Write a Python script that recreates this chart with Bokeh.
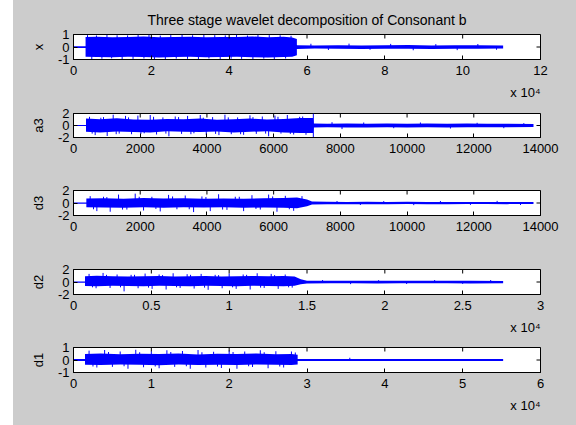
from bokeh.plotting import figure
from bokeh.layouts import column, row
from bokeh.models import Range1d, FixedTicker, Spacer, Title
from bokeh.embed import file_html
from bokeh.resources import INLINE

TITLE = "Three stage wavelet decomposition of Consonant b"
EXP_LABEL = "x 10\u2074"
FONT = "Liberation Sans"
BLUE = "#0000ff"
GRAY = "#cccccc"

# ---- x (original signal), samples ----
x_env_t = [0, 3100, 3100, 6000, 10000, 14000, 18000, 22000, 26000, 30000, 34000, 38000, 42000, 46000,
           50000, 54000, 56200, 57400, 57400, 62000, 68000, 74000, 80000, 86000, 92000, 98000, 104000, 110400]
x_env_hi = [0.07, 0.07, 0.80, 0.82, 0.78, 0.81, 0.84, 0.79, 0.80, 0.83, 0.78, 0.81, 0.80, 0.84,
            0.79, 0.82, 0.76, 0.65, 0.15, 0.13, 0.15, 0.12, 0.14, 0.16, 0.13, 0.14, 0.15, 0.12]
x_env_lo = [-0.07, -0.07, -0.78, -0.80, -0.82, -0.77, -0.80, -0.83, -0.79, -0.78, -0.82, -0.80, -0.77, -0.81,
            -0.83, -0.79, -0.78, -0.65, -0.15, -0.12, -0.14, -0.15, -0.13, -0.14, -0.16, -0.13, -0.14, -0.12]
x_spk_t = [3600, 4700, 5900, 7300, 8600, 9800, 11200, 12500, 13900, 15300, 16600, 18100, 19400, 20800,
           22300, 23600, 25000, 26400, 27900, 29300, 30600, 32100, 33500, 34800, 36300, 37700, 39000, 40500,
           41900, 43200, 44700, 46100, 47400, 48900, 50300, 51600, 53100, 54500, 55900,
           61000, 65500, 70800, 76200, 81500, 87300, 93100, 98600, 103900, 108700]
x_spk_v = [0.95, -0.97, 0.92, -0.94, 0.97, -0.91, 0.94, -0.98, 0.93, -0.95, 0.96, -0.92, 0.98, -0.96,
           0.91, -0.97, 0.95, -0.93, 0.97, -0.95, 0.94, -0.98, 0.96, -0.92, 0.95, -0.96, 0.93, -0.94,
           0.97, -0.95, 0.92, -0.97, 0.96, -0.93, 0.95, -0.96, 0.94, -0.92, 0.90,
           0.26, -0.24, 0.27, -0.22, 0.25, -0.26, 0.23, -0.25, 0.24, -0.22]

# ---- a3 ----
a3_env_t = [0, 375, 375, 800, 1300, 1800, 2300, 2800, 3300, 3800, 4300, 4800, 5300, 5800, 6300, 6800,
            7180, 7200, 7600, 8200, 8800, 9400, 10000, 10600, 11200, 11800, 12400, 13000, 13790]
a3_env_hi = [0.1, 0.1, 1.15, 1.05, 1.2, 1.0, 0.95, 1.1, 1.05, 1.15, 0.95, 1.05, 1.15, 1.0, 1.1, 1.25,
             1.25, 0.35, 0.3, 0.35, 0.28, 0.33, 0.3, 0.35, 0.28, 0.32, 0.3, 0.29, 0.25]
a3_env_lo = [-0.1, -0.1, -1.05, -1.15, -1.0, -1.1, -1.15, -0.95, -1.05, -1.1, -1.0, -1.15, -1.05, -0.95, -1.15, -1.25,
             -1.25, -0.35, -0.3, -0.33, -0.35, -0.28, -0.32, -0.3, -0.35, -0.28, -0.31, -0.29, -0.25]
a3_spk_t = [480, 650, 820, 1010, 1190, 1370, 1560, 1740, 1930, 2120, 2300, 2490, 2680, 2860, 3050, 3240,
            3420, 3610, 3800, 3980, 4170, 4360, 4540, 4730, 4920, 5100, 5290, 5480, 5660, 5850, 6040, 6220,
            6410, 6600, 6780, 6970, 7190, 7190, 7750, 8050, 8700, 9600, 10400, 11300, 12100, 12900, 13500,
            560, 900, 1280, 1650, 2020, 2400, 2770, 3150, 3520, 3890, 4260, 4640, 5010, 5380, 5760, 6130,
            6500, 6870]
a3_spk_v = [1.45, -1.6, 1.3, -1.75, 1.8, -1.35, 1.6, -1.45, 1.65, -1.3, 1.75, -1.5, 1.35, -1.8, 1.5, -1.4,
            1.6, -1.3, 1.75, -1.55, 1.4, -1.6, 1.8, -1.45, 1.35, -1.55, 1.7, -1.4, 1.5, -1.8, 1.65, -1.35,
            1.75, -1.5, 1.45, -1.55, 2.0, -2.0, 0.55, -0.6, 0.5, -0.45, 0.5, -0.5, 0.45, -0.45, 0.4,
            -1.35, 1.4, -1.45, 1.35, -1.4, 1.45, -1.35, 1.4, -1.45, 1.3, -1.4, 1.35, -1.45, 1.4, -1.35, 1.45,
            -1.4, 1.5]

# ---- d3 ----
d3_env_t = [0, 385, 385, 900, 1500, 2100, 2700, 3300, 3900, 4500, 5100, 5700, 6300, 6700, 7000, 7150,
            7600, 8200, 8800, 9400, 10000, 10600, 11200, 11800, 12400, 13000, 13790]
d3_env_hi = [0.1, 0.1, 0.72, 0.77, 0.67, 0.82, 0.72, 0.77, 0.67, 0.72, 0.67, 0.77, 0.82, 0.87, 0.58, 0.25,
             0.2, 0.18, 0.2, 0.17, 0.19, 0.18, 0.18, 0.16, 0.18, 0.17, 0.15]
d3_env_lo = [-0.1, -0.1, -0.67, -0.72, -0.77, -0.67, -0.77, -0.67, -0.72, -0.67, -0.77, -0.72, -0.77, -0.82, -0.53, -0.25,
             -0.2, -0.19, -0.18, -0.2, -0.17, -0.19, -0.18, -0.17, -0.16, -0.18, -0.15]
d3_spk_t = [500, 700, 900, 1100, 1350, 1600, 1850, 2100, 2350, 2600, 2850, 3100, 3350, 3600, 3850, 4100,
            4350, 4600, 4850, 5100, 5350, 5600, 5850, 6100, 6350, 6600, 6850,
            7900, 8600, 9300, 10200, 11000, 11900, 12700, 13400,
            600, 1000, 1470, 1970, 2470, 2970, 3470, 3970, 4470, 4970, 5470, 5970, 6470]
d3_spk_v = [1.1, -1.3, 1.0, -1.4, 1.35, -1.05, 1.5, -1.2, 1.0, -1.35, 1.3, -1.0, 1.2, -1.45, 1.05, -1.3,
            1.4, -1.1, 1.0, -1.3, 1.25, -1.05, 1.35, -1.4, 1.15, -1.25, 1.1,
            0.32, -0.32, 0.3, -0.34, 0.32, -0.3, 0.34, -0.32,
            -1.0, 0.95, -1.05, 1.0, -0.95, 1.05, -1.0, 0.95, -1.05, 1.0, -0.95, 1.05, -1.0]

# ---- d2 ----
d2_env_t = [0, 740, 740, 1500, 2500, 3500, 4500, 5500, 6500, 7500, 8500, 9500, 10500, 11500, 12500, 13500,
            14200, 14600, 15000, 16500, 18000, 19500, 21000, 22500, 24000, 25500, 27600]
d2_env_hi = [0.1, 0.1, 0.92, 1.0, 0.92, 0.87, 0.92, 0.97, 0.87, 0.92, 0.97, 0.87, 0.92, 0.97, 0.92, 0.97,
             0.87, 0.45, 0.22, 0.2, 0.22, 0.19, 0.21, 0.2, 0.22, 0.19, 0.18]
d2_env_lo = [-0.1, -0.1, -0.62, -0.67, -0.58, -0.62, -0.67, -0.58, -0.62, -0.67, -0.58, -0.62, -0.67, -0.58, -0.62, -0.67,
             -0.58, -0.35, -0.22, -0.2, -0.21, -0.22, -0.19, -0.21, -0.2, -0.22, -0.18]
d2_spk_t = [1000, 1450, 1900, 2350, 2800, 3250, 3700, 4150, 4600, 5050, 5500, 5950, 6400, 6850, 7300, 7750,
            8200, 8650, 9100, 9550, 10000, 10450, 10900, 11350, 11800, 12250, 12700, 13150, 13600, 14050,
            16000, 17800, 19600, 21400, 23200, 25000, 26800,
            1220, 2120, 3020, 3920, 4820, 5720, 6620, 7520, 8420, 9320, 10220, 11120, 12020, 12920, 13820]
d2_spk_v = [1.3, -1.0, 1.45, -0.95, 1.2, -1.5, 1.15, -1.0, 1.35, -1.1, 1.2, -1.2, 1.4, -0.95, 1.25, -1.05,
            1.3, -1.25, 1.15, -1.0, 1.35, -1.1, 1.2, -1.2, 1.4, -0.95, 1.3, -1.1, 1.2, -0.9,
            0.32, -0.34, 0.3, -0.32, 0.32, -0.3, 0.32,
            -0.85, 1.15, -0.85, 1.15, -0.9, 1.1, -0.85, 1.15, -0.9, 1.1, -0.85, 1.15, -0.9, 1.1, -0.85]

# ---- d1 ----
d1_env_t = [0, 1480, 1480, 3500, 6000, 8500, 11000, 13500, 16000, 18500, 21000, 23500, 26000, 28000,
            28800, 28800, 55200]
d1_env_hi = [0.08, 0.08, 0.48, 0.53, 0.46, 0.5, 0.48, 0.53, 0.45, 0.5, 0.48, 0.52, 0.46, 0.48, 0.43, 0.08, 0.08]
d1_env_lo = [-0.08, -0.08, -0.38, -0.4, -0.36, -0.38, -0.41, -0.36, -0.39, -0.38, -0.4, -0.36, -0.38, -0.39,
             -0.36, -0.08, -0.08]
d1_spk_t = [2000, 3000, 4000, 5000, 6000, 7000, 8000, 9000, 10000, 11000, 12000, 13000, 14000, 15000,
            16000, 17000, 18000, 19000, 20000, 21000, 22000, 23000, 24000, 25000, 26000, 27000, 28000, 35500,
            2500, 4500, 6500, 8500, 10500, 12500, 14500, 16500, 18500, 20500, 22500, 24500, 26500, 28500]
d1_spk_v = [0.75, -0.6, 0.8, -0.55, 0.68, -0.7, 0.82, -0.58, 0.7, -0.66, 0.78, -0.55, 0.72, -0.7,
            0.8, -0.6, 0.66, -0.64, 0.76, -0.7, 0.68, -0.56, 0.78, -0.66, 0.7, -0.6, 0.68, 0.18,
            -0.52, 0.64, -0.5, 0.62, -0.52, 0.64, -0.5, 0.62, -0.52, 0.64, -0.5, 0.62, -0.52, 0.6]

# ---- axes definitions ----
x_ticks = [0, 2, 4, 6, 8, 10, 12]
x_tick_labels = ["0", "2", "4", "6", "8", "10", "12"]
a3_ticks = [0, 2000, 4000, 6000, 8000, 10000, 12000, 14000]
a3_tick_labels = ["0", "2000", "4000", "6000", "8000", "10000", "12000", "14000"]
d2_ticks = [0, 0.5, 1, 1.5, 2, 2.5, 3]
d2_tick_labels = ["0", "0.5", "1", "1.5", "2", "2.5", "3"]
d1_ticks = [0, 1, 2, 3, 4, 5, 6]
d1_tick_labels = ["0", "1", "2", "3", "4", "5", "6"]
y1_ticks = [-1, 0, 1]
y1_tick_labels = ["-1", "0", "1"]
y2_ticks = [-2, 0, 2]
y2_tick_labels = ["-2", "0", "2"]

panels = [
    dict(name="x", t=x_env_t, hi=x_env_hi, lo=x_env_lo, st=x_spk_t, sv=x_spk_v, scale=1e4,
         xmax=12, xt=x_ticks, xl=x_tick_labels, ylim=1, yt=y1_ticks, yl=y1_tick_labels, exp=True,
         h=106, top=34, bottom=47, title=True),
    dict(name="a3", t=a3_env_t, hi=a3_env_hi, lo=a3_env_lo, st=a3_spk_t, sv=a3_spk_v, scale=1,
         xmax=14000, xt=a3_ticks, xl=a3_tick_labels, ylim=2, yt=y2_ticks, yl=y2_tick_labels, exp=False,
         h=70, top=7, bottom=39, title=False),
    dict(name="d3", t=d3_env_t, hi=d3_env_hi, lo=d3_env_lo, st=d3_spk_t, sv=d3_spk_v, scale=1,
         xmax=14000, xt=a3_ticks, xl=a3_tick_labels, ylim=2, yt=y2_ticks, yl=y2_tick_labels, exp=False,
         h=74, top=14, bottom=35, title=False),
    dict(name="d2", t=d2_env_t, hi=d2_env_hi, lo=d2_env_lo, st=d2_spk_t, sv=d2_spk_v, scale=1e4,
         xmax=3, xt=d2_ticks, xl=d2_tick_labels, ylim=2, yt=y2_ticks, yl=y2_tick_labels, exp=True,
         h=90, top=19, bottom=46, title=False),
    dict(name="d1", t=d1_env_t, hi=d1_env_hi, lo=d1_env_lo, st=d1_spk_t, sv=d1_spk_v, scale=1e4,
         xmax=6, xt=d1_ticks, xl=d1_tick_labels, ylim=1, yt=y1_ticks, yl=y1_tick_labels, exp=True,
         h=85, top=7, bottom=53, title=False),
]

W = 563
LEFT = 60
RIGHT = 36
FRAME_W = W - LEFT - RIGHT
TICK_PX = 4


def style_axis(ax, ticks, labels):
    ax.ticker = FixedTicker(ticks=ticks)
    ax.major_label_overrides = dict(zip(ticks, labels))
    ax.major_tick_in = TICK_PX
    ax.major_tick_out = 0
    ax.minor_tick_line_color = None
    ax.axis_line_color = "black"
    ax.major_tick_line_color = "black"
    ax.major_label_text_font = FONT
    ax.major_label_text_color = "black"
    ax.major_label_text_font_size = "13px"
    ax.major_label_standoff = 5


figs = []
for pn in panels:
    fh = pn["h"] - pn["top"] - pn["bottom"]
    ylim = pn["ylim"]
    xmax = pn["xmax"]
    p = figure(width=W, height=pn["h"], x_range=Range1d(0, xmax), y_range=Range1d(-ylim, ylim),
               output_backend="svg", toolbar_location=None,
               min_border_left=LEFT, min_border_right=RIGHT,
               min_border_top=pn["top"], min_border_bottom=pn["bottom"],
               background_fill_color="white", border_fill_color=GRAY,
               outline_line_color="black", outline_line_width=1)
    if pn["title"]:
        p.title.text = TITLE
        p.title.align = "center"
        p.title.text_font = FONT
        p.title.text_font_size = "14px"
        p.title.text_font_style = "normal"
        p.title.text_color = "black"
        p.title.standoff = 14
    p.grid.visible = False

    t = [v / pn["scale"] for v in pn["t"]]
    st = [v / pn["scale"] for v in pn["st"]]
    p.varea(x=t, y1=pn["lo"], y2=pn["hi"], fill_color=BLUE)
    p.segment(x0=st, y0=[0] * len(st), x1=st, y1=pn["sv"], line_color=BLUE, line_width=1)

    xa = p.xaxis[0]
    style_axis(xa, pn["xt"], pn["xl"])
    xa.major_label_standoff = 6
    ya = p.yaxis[0]
    style_axis(ya, pn["yt"], pn["yl"])
    ya.major_label_standoff = 4
    ya.axis_label = pn["name"]
    ya.axis_label_text_font = FONT
    ya.axis_label_text_font_size = "13px"
    ya.axis_label_text_font_style = "normal"
    ya.axis_label_text_color = "black"
    ya.axis_label_standoff = 9

    # mirrored inward ticks on the top and right edges of the box (MATLAB "box on")
    xpp = xmax / FRAME_W
    ypp = 2 * ylim / fh
    xt = pn["xt"]
    yt = pn["yt"]
    p.segment(x0=xt, y0=[ylim] * len(xt), x1=xt, y1=[ylim - TICK_PX * ypp] * len(xt),
              line_color="black", line_width=1)
    p.segment(x0=[xmax] * len(yt), y0=yt, x1=[xmax - TICK_PX * xpp] * len(yt), y1=yt,
              line_color="black", line_width=1)

    if pn["exp"]:
        p.add_layout(Title(text=EXP_LABEL, align="right", text_font=FONT, text_font_size="13px",
                           text_font_style="normal", text_color="black", standoff=10, offset=0),
                     "below")
    figs.append(p)

col = column(*figs, styles={"background-color": GRAY})
layout = row(Spacer(width=13, height=425), col)
open("out.html", "w").write(file_html(layout, INLINE))
